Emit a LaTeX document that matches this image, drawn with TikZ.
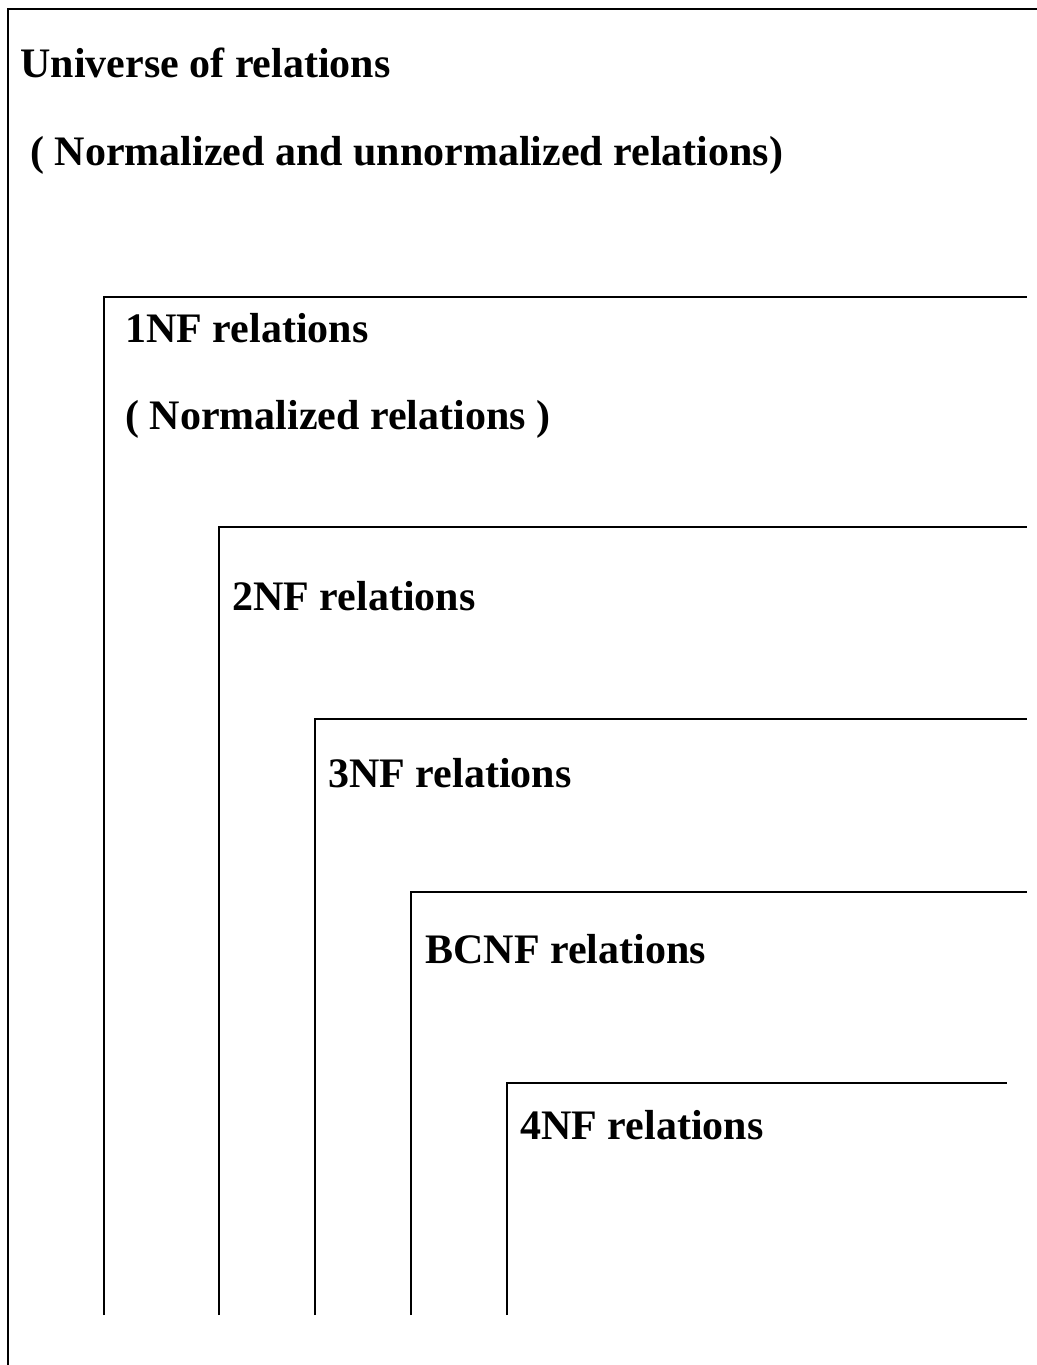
\documentclass[tikz,border=0pt]{standalone}
\usepackage{fontspec}
\setmainfont{Liberation Serif}

\begin{document}
\begin{tikzpicture}[
    x=0.5pt, y=-0.5pt,
    setline/.style={line width=1pt, black},
    setlabel/.style={anchor=base west, inner sep=0pt, font=\fontsize{21}{25}\selectfont\bfseries}
]
    \useasboundingbox (0, 0) rectangle (1037, 1365);

    % Outer set: Universe of relations
    \draw[setline] (8, 1365) |- (1037, 9);
    \node[setlabel] (univ) at (20, 77) {Universe of relations};
    \node[setlabel] (univsub) at (30, 165) {( Normalized and unnormalized relations)};

    % 1NF
    \draw[setline] (104, 1315) |- (1027, 297);
    \node[setlabel] (nf1) at (125, 342) {1NF relations};
    \node[setlabel] (nf1sub) at (125, 429) {( Normalized relations )};

    % 2NF
    \draw[setline] (219, 1315) |- (1027, 527);
    \node[setlabel] (nf2) at (232, 610) {2NF relations};

    % 3NF
    \draw[setline] (315, 1315) |- (1027, 719);
    \node[setlabel] (nf3) at (328, 787) {3NF relations};

    % BCNF
    \draw[setline] (411, 1315) |- (1027, 892);
    \node[setlabel] (bcnf) at (425, 963) {BCNF relations};

    % 4NF
    \draw[setline] (507, 1315) |- (1007, 1083);
    \node[setlabel] (nf4) at (520, 1139) {4NF relations};

\end{tikzpicture}
\end{document}
